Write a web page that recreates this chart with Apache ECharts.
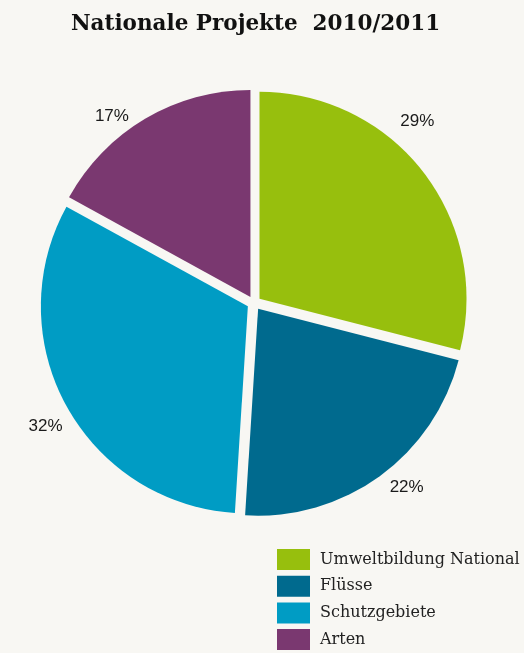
<!DOCTYPE html>
<html><head><meta charset="utf-8">
<script src="https://cdn.jsdelivr.net/npm/echarts@6/dist/echarts.min.js"></script>
<style>html,body{margin:0;padding:0;background:#f8f7f3;}#c{width:524px;height:653px;}</style>
</head><body><div id="c"></div>
<script>
const categories = ['Umweltbildung National', 'Flüsse', 'Schutzgebiete', 'Arten'];
const values = [29, 22, 32, 17];
const labels = ['29%', '22%', '32%', '17%'];
const colors = ['#97bf0d', '#006a8e', '#009cc4', '#7a3870'];
// label placement style: angular shift from slice bisector (deg) and distance from centre (px)
const labelShift = [-10.2, -3.7, -1.7, -6.6];
const labelDist = [244, 239, 242, 235];

const CX = 254, CY = 303, R = 207;
const total = values.reduce((a, b) => a + b, 0);
let cum = 0;
const labelGraphics = values.map((v, i) => {
  const mid = (cum + v / 2) / total * 360 + labelShift[i];
  cum += v;
  const a = mid * Math.PI / 180;
  return {
    type: 'text',
    x: CX + labelDist[i] * Math.sin(a),
    y: CY - labelDist[i] * Math.cos(a),
    style: {text: labels[i], fontFamily: 'Liberation Sans', fontSize: 17, fill: '#1a1a1a',
            align: 'center', verticalAlign: 'middle'}
  };
});

const chart = echarts.init(document.getElementById('c'), null, {renderer: 'canvas'});
chart.setOption({
  backgroundColor: '#f8f7f3',
  animation: false,
  title: {
    text: 'Nationale Projekte  2010/2011',
    left: 250.5, top: 8, textAlign: 'center',
    textStyle: {fontFamily: 'DejaVu Serif', fontWeight: 'bold', fontSize: 21.5, color: '#111'}
  },
  legend: {
    orient: 'vertical', left: 277, top: 549, padding: 0,
    itemWidth: 33, itemHeight: 21, itemGap: 5.7,
    icon: 'rect', selectedMode: false,
    data: categories,
    textStyle: {fontFamily: 'DejaVu Serif', fontSize: 16, color: '#222', padding: [0, 0, 0, 5]}
  },
  graphic: labelGraphics,
  series: [{
    type: 'pie',
    center: [CX, CY], radius: R,
    startAngle: 90, clockwise: true,
    selectedMode: 'multiple', selectedOffset: 7,
    emphasis: {disabled: true},
    label: {show: false},
    labelLine: {show: false},
    data: categories.map((n, i) => ({
      name: n, value: values[i], selected: true,
      itemStyle: {color: colors[i]},
      select: {itemStyle: {color: colors[i]}}
    }))
  }]
});
</script></body></html>
